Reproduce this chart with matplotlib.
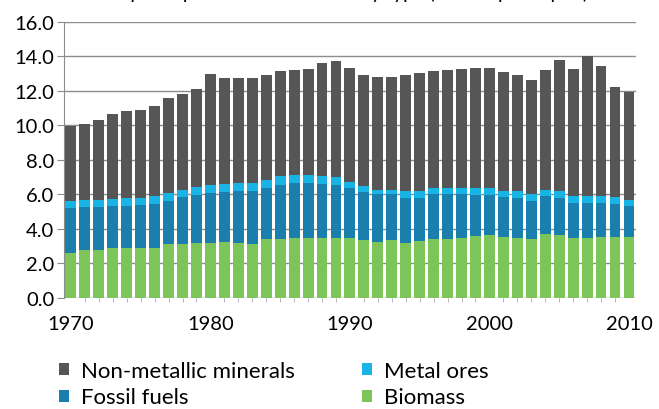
import matplotlib.pyplot as plt
import numpy as np

plt.rcParams['font.family'] = ['Lato', 'DejaVu Sans']

years = np.arange(1970, 2011)
biomass = [2.60, 2.75, 2.80, 2.87, 2.87, 2.87, 2.90, 3.10, 3.15, 3.20,
           3.16, 3.22, 3.16, 3.12, 3.39, 3.42, 3.45, 3.45, 3.45, 3.45,
           3.45, 3.35, 3.22, 3.35, 3.20, 3.30, 3.40, 3.40, 3.50, 3.60,
           3.64, 3.55, 3.50, 3.39, 3.70, 3.64, 3.45, 3.50, 3.55, 3.55, 3.52]
fossil = [2.60, 2.50, 2.45, 2.43, 2.48, 2.49, 2.54, 2.53, 2.68, 2.78,
          2.92, 2.93, 3.02, 3.06, 2.98, 3.15, 3.22, 3.22, 3.15, 3.12,
          2.92, 2.79, 2.78, 2.65, 2.59, 2.51, 2.60, 2.60, 2.50, 2.37,
          2.33, 2.28, 2.30, 2.21, 2.19, 2.16, 2.05, 2.00, 1.95, 1.89, 1.78]
metal = [0.43, 0.44, 0.44, 0.45, 0.45, 0.44, 0.45, 0.45, 0.44, 0.43,
         0.45, 0.45, 0.49, 0.49, 0.49, 0.48, 0.43, 0.43, 0.45, 0.43,
         0.33, 0.33, 0.27, 0.27, 0.39, 0.41, 0.37, 0.37, 0.37, 0.40,
         0.40, 0.39, 0.38, 0.40, 0.38, 0.38, 0.39, 0.39, 0.39, 0.39, 0.39]
nonmetal = [4.31, 4.41, 4.61, 4.91, 5.06, 5.10, 5.26, 5.50, 5.53, 5.71,
            6.47, 6.15, 6.10, 6.10, 6.04, 6.09, 6.14, 6.20, 6.58, 6.72,
            6.63, 6.47, 6.53, 6.53, 6.72, 6.84, 6.77, 6.83, 6.93, 6.96,
            6.96, 6.88, 6.72, 6.65, 6.93, 7.60, 7.41, 8.13, 7.54, 6.39, 6.24]

c_bio = '#7dc45a'
c_fos = '#1b7fae'
c_met = '#19b4e6'
c_non = '#565656'

fig = plt.figure(figsize=(6.59, 4.10), dpi=100)
ax = fig.add_axes([0.097, 0.271, 0.868, 0.673])

b = np.array(biomass)
f = np.array(fossil)
m = np.array(metal)
w = 0.78
h_bio = ax.bar(years, b, w, color=c_bio, zorder=2)
h_fos = ax.bar(years, f, w, bottom=b, color=c_fos, zorder=2)
h_met = ax.bar(years, m, w, bottom=b + f, color=c_met, zorder=2)
h_non = ax.bar(years, nonmetal, w, bottom=b + f + m, color=c_non, zorder=2)

ax.set_ylim(0, 16)
ax.set_xlim(1969.5, 2010.5)
ax.set_yticks(np.arange(0, 17, 2))
ax.set_yticklabels(["%.1f" % v for v in np.arange(0, 17, 2)])
ax.set_xticks([1970, 1980, 1990, 2000, 2010])
ax.set_xticks(years, minor=True)
ax.grid(axis='y', color='#8c8c8c', linewidth=1.0, zorder=0)
for s in ['top', 'right', 'bottom']:
    ax.spines[s].set_visible(False)
ax.spines['left'].set_color('#8c8c8c')
ax.tick_params(axis='y', length=5, color='#8c8c8c', labelsize=14.5, pad=2)
ax.tick_params(axis='x', which='major', length=0, labelsize=14.5, pad=12)
ax.tick_params(axis='x', which='minor', length=3, color='#aaaaaa')

# title is mostly cut off by the top edge in the original
fig.text(0.5, 1.003, "Global per capita use of materials by type (tonnes per capita)",
         ha='center', va='baseline', fontsize=14)

fig.legend([h_non, h_fos, h_met, h_bio],
           ["Non-metallic minerals", "Fossil fuels", "Metal ores", "Biomass"],
           ncol=2, loc='lower left', bbox_to_anchor=(0.059, -0.045),
           frameon=False, fontsize=16, handlelength=0.45, handleheight=0.45,
           handletextpad=0.55, columnspacing=3.0, labelspacing=0.3)

plt.savefig("out.png", dpi=100)
